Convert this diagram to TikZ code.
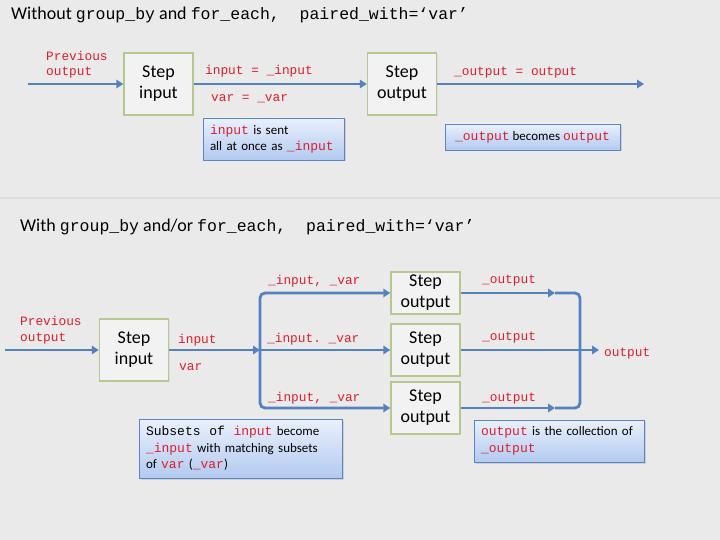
\documentclass[tikz,border=0pt]{standalone}
\usepackage{fontspec}
\setmainfont{Carlito}
\setmonofont{Liberation Mono}
\usetikzlibrary{positioning, arrows.meta, shadows}
\definecolor{slidegray}{HTML}{EAEAEA}
\definecolor{stepgreen}{HTML}{B5C88E}
\definecolor{flowblue}{HTML}{5582BE}
\definecolor{codered}{HTML}{DC1F2B}
\definecolor{notetop}{HTML}{EAF0FC}
\definecolor{notebot}{HTML}{B2CAF0}
\definecolor{noteedge}{HTML}{5A84C3}
\newcommand{\cd}[1]{{\ttfamily\color{codered}#1}}
\newcommand{\tc}[1]{{\ttfamily\fontsize{16.5}{20}\selectfont #1}}
\tikzstyle{stepbox} = [rectangle, draw=stepgreen, line width=1.5pt, fill=black!5,
minimum width=69pt, minimum height=62pt, align=center, inner sep=2pt,
font=\fontsize{18}{21}\selectfont, drop shadow={opacity=0.12, shadow xshift=1pt, shadow yshift=-1pt}]
\tikzstyle{note} = [rectangle, draw=noteedge, line width=0.9pt, top color=notetop, bottom color=notebot,
align=left, inner xsep=7pt, font=\fontsize{13}{16.5}\selectfont, drop shadow={opacity=0.25, shadow xshift=1.5pt, shadow yshift=-1.5pt}]
\tikzstyle{lbl} = [inner sep=0pt, anchor=base west, text=codered, align=left,
font=\ttfamily\fontsize{12.8}{15.5}\selectfont]
\tikzstyle{title} = [inner sep=0pt, anchor=base west, font=\fontsize{18}{20}\selectfont]
\tikzstyle{arrow} = [draw=flowblue, line width=2.8pt, -{Triangle[length=7pt,width=8.5pt]}]
\tikzstyle{line} = [draw=flowblue, line width=2.8pt]

\begin{document}
\begin{tikzpicture}[x=1pt, y=-1pt]
    \useasboundingbox (0,0) rectangle (720,540);
    \fill[slidegray] (0,0) rectangle (720,540);
    \draw[black!13, line width=1.5pt] (0,198) -- (720,198);

    % without group_by / for_each
    \node (title1) [title] at (11,20) {Without \tc{group\_by} and \tc{for\_each,\ \ paired\_with=‘var’}};
    \node (prev1) [lbl] at (46,76) {Previous\\output};
    \node (in1) [stepbox] at (158.5,84) {Step\\input};
    \node (out1) [stepbox] at (402,84) {Step\\output};
    \coordinate (s1) at (28,84);
    \coordinate (e1) at (644,84);
    \draw [arrow] (s1) -- (in1);
    \draw [arrow] (in1) -- (out1);
    \draw [arrow] (out1) -- (e1);
    \node (l1) [lbl] at (205,75) {input = \_input};
    \node (l2) [lbl] at (211,102) {var = \_var};
    \node (l3) [lbl] at (454,76) {\_output = output};
    \node (n1) [note, minimum width=141pt, minimum height=42pt, text width=127pt] at (273.5,139)
        {\mbox{\cd{input} is sent}\\\mbox{all at once as \cd{\_input}}};
    \node (n2) [note, minimum width=175pt, minimum height=26pt, align=center] at (532.5,137)
        {\cd{\_output} becomes \cd{output}};

    % with group_by and/or for_each
    \node (title2) [title] at (20,231) {With \tc{group\_by} and/or \tc{for\_each,\ \ paired\_with=‘var’}};
    \node (prev2) [lbl] at (20,341) {Previous\\output};
    \node (in2) [stepbox] at (134,350) {Step\\input};
    \node (o1) [stepbox, minimum height=42pt] at (425.5,293) {Step\\output};
    \node (o2) [stepbox, minimum height=52pt] at (425.5,350) {Step\\output};
    \node (o3) [stepbox, minimum height=52pt] at (425.5,408) {Step\\output};
    \coordinate (s2) at (5,350);
    \coordinate (split) at (260,350);
    \coordinate (m1) at (555,293);
    \coordinate (m3) at (555,408);
    \coordinate (join) at (580,350);
    \coordinate (e2) at (599,350);
    \draw [arrow] (s2) -- (in2);
    \draw [arrow] (in2) -- (split);
    \draw [arrow, rounded corners=5pt] (split) |- (o1);
    \draw [arrow] (split) -- (o2);
    \draw [arrow, rounded corners=5pt] (split) |- (o3);
    \draw [arrow] (o1) -- (m1);
    \draw [line, rounded corners=5pt] (m1) -| (join);
    \draw [arrow] (o2) -- (e2);
    \draw [arrow] (o3) -- (m3);
    \draw [line, rounded corners=5pt] (m3) -| (join);
    \node (l4) [lbl] at (178,343) {input};
    \node (l5) [lbl] at (179,370) {var};
    \node (l6) [lbl] at (268,284) {\_input, \_var};
    \node (l7) [lbl] at (267,342) {\_input. \_var};
    \node (l8) [lbl] at (268,401) {\_input, \_var};
    \node (l9) [lbl] at (482,283) {\_output};
    \node (l10) [lbl] at (482,340) {\_output};
    \node (l11) [lbl] at (482,401) {\_output};
    \node (l12) [lbl] at (604,356) {output};
    \node (n3) [note, minimum width=203pt, minimum height=59pt, text width=189pt] at (240.5,448.5)
        {\mbox{\texttt{Subsets\ \ of\ \ }\cd{input} become}\\\mbox{\cd{\_input} with matching subsets}\\\mbox{of \cd{var} (\cd{\_var})}};
    \node (n4) [note, minimum width=170pt, minimum height=42pt, text width=156pt] at (559,441)
        {\mbox{\cd{output} is the collection of}\\\mbox{\cd{\_output}}};
\end{tikzpicture}
\end{document}
